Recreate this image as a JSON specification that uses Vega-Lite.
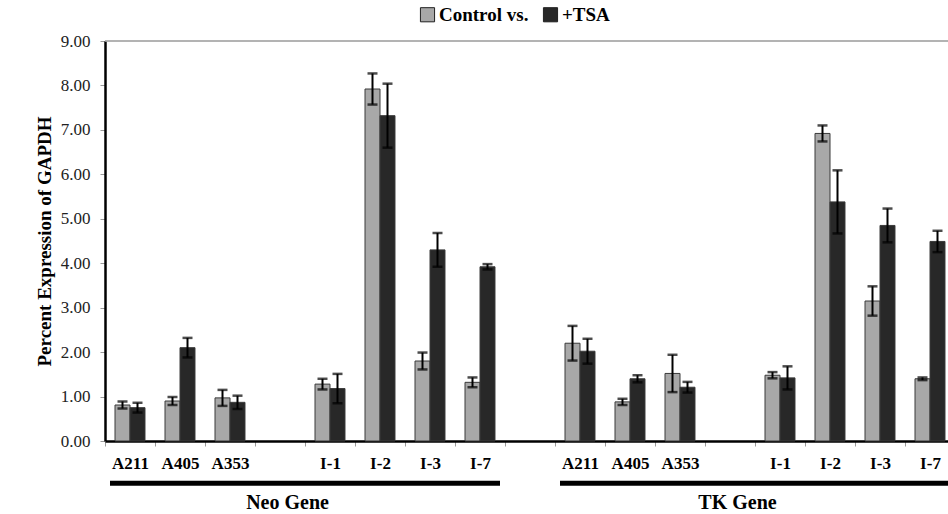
{
  "$schema": "https://vega.github.io/schema/vega-lite/v6.json",
  "autosize": {"type": "none"},
  "padding": {"left": 105, "top": 41, "right": -7, "bottom": 73},
  "width": 850,
  "height": 400,
  "background": "white",
  "config": {
    "view": {"stroke": null},
    "font": "Liberation Serif"
  },
  "datasets": {
    "bars": [
      {"slot": "Neo|A211", "series": "Control vs.", "value": 0.81, "err": 0.08},
      {"slot": "Neo|A211", "series": "+TSA", "value": 0.75, "err": 0.11},
      {"slot": "Neo|A405", "series": "Control vs.", "value": 0.90, "err": 0.09},
      {"slot": "Neo|A405", "series": "+TSA", "value": 2.10, "err": 0.22},
      {"slot": "Neo|A353", "series": "Control vs.", "value": 0.97, "err": 0.18},
      {"slot": "Neo|A353", "series": "+TSA", "value": 0.87, "err": 0.15},
      {"slot": "Neo|I-1", "series": "Control vs.", "value": 1.28, "err": 0.12},
      {"slot": "Neo|I-1", "series": "+TSA", "value": 1.18, "err": 0.33},
      {"slot": "Neo|I-2", "series": "Control vs.", "value": 7.92, "err": 0.35},
      {"slot": "Neo|I-2", "series": "+TSA", "value": 7.32, "err": 0.72},
      {"slot": "Neo|I-3", "series": "Control vs.", "value": 1.80, "err": 0.19},
      {"slot": "Neo|I-3", "series": "+TSA", "value": 4.30, "err": 0.38},
      {"slot": "Neo|I-7", "series": "Control vs.", "value": 1.32, "err": 0.11},
      {"slot": "Neo|I-7", "series": "+TSA", "value": 3.92, "err": 0.06},
      {"slot": "TK|A211", "series": "Control vs.", "value": 2.20, "err": 0.39},
      {"slot": "TK|A211", "series": "+TSA", "value": 2.02, "err": 0.28},
      {"slot": "TK|A405", "series": "Control vs.", "value": 0.88, "err": 0.07},
      {"slot": "TK|A405", "series": "+TSA", "value": 1.40, "err": 0.08},
      {"slot": "TK|A353", "series": "Control vs.", "value": 1.52, "err": 0.42},
      {"slot": "TK|A353", "series": "+TSA", "value": 1.21, "err": 0.12},
      {"slot": "TK|I-1", "series": "Control vs.", "value": 1.48, "err": 0.07},
      {"slot": "TK|I-1", "series": "+TSA", "value": 1.42, "err": 0.26},
      {"slot": "TK|I-2", "series": "Control vs.", "value": 6.92, "err": 0.18},
      {"slot": "TK|I-2", "series": "+TSA", "value": 5.38, "err": 0.71},
      {"slot": "TK|I-3", "series": "Control vs.", "value": 3.15, "err": 0.33},
      {"slot": "TK|I-3", "series": "+TSA", "value": 4.85, "err": 0.38},
      {"slot": "TK|I-7", "series": "Control vs.", "value": 1.40, "err": 0.03},
      {"slot": "TK|I-7", "series": "+TSA", "value": 4.49, "err": 0.24}
    ],
    "groups": [
      {"group": "Neo Gene", "first": "Neo|A211", "last": "Neo|I-7", "mid": "Neo|"},
      {"group": "TK Gene", "first": "TK|A211", "last": "TK|I-7", "mid": "TK|"}
    ]
  },
  "layer": [
    {
      "data": {"name": "bars"},
      "mark": {"type": "bar", "stroke": "#3a3a3a", "strokeWidth": 1},
      "encoding": {
        "x": {
          "field": "slot", "type": "nominal",
          "scale": {
            "domain": ["Neo|A211", "Neo|A405", "Neo|A353", "Neo|", "Neo|I-1", "Neo|I-2", "Neo|I-3", "Neo|I-7", "gap|",
                       "TK|A211", "TK|A405", "TK|A353", "TK|", "TK|I-1", "TK|I-2", "TK|I-3", "TK|I-7"],
            "paddingInner": 0, "paddingOuter": 0
          },
          "axis": {
            "title": null,
            "labelExpr": "split(datum.value, '|')[1]",
            "labelAngle": 0,
            "labelFont": "Liberation Serif",
            "labelFontWeight": "bold",
            "labelFontSize": 17,
            "labelColor": "black",
            "labelPadding": 9,
            "tickBand": "extent",
            "tickColor": "#999999",
            "tickSize": 5,
            "tickWidth": 1,
            "domainColor": "black",
            "domainWidth": 2.5
          }
        },
        "xOffset": {
          "field": "series", "type": "nominal",
          "scale": {"domain": ["Control vs.", "+TSA"], "paddingInner": 0, "paddingOuter": 0.667}
        },
        "y": {
          "field": "value", "type": "quantitative",
          "title": "Percent Expression of GAPDH",
          "scale": {"domain": [0, 9], "nice": false},
          "axis": {
            "title": "Percent Expression of GAPDH",
            "titleFont": "Liberation Serif",
            "titleFontWeight": "bold",
            "titleFontSize": 19,
            "titleColor": "black",
            "titlePadding": 6,
            "values": [0, 1, 2, 3, 4, 5, 6, 7, 8, 9],
            "format": ".2f",
            "labelFont": "Liberation Serif",
            "labelFontSize": 17,
            "labelColor": "#222222",
            "labelPadding": 10,
            "grid": false,
            "tickColor": "#999999",
            "tickSize": 5,
            "tickWidth": 1,
            "domainColor": "black",
            "domainWidth": 2.5
          }
        },
        "color": {
          "field": "series", "type": "nominal",
          "scale": {"domain": ["Control vs.", "+TSA"], "range": ["#a8a8a8", "#282828"]},
          "legend": {
            "title": null,
            "orient": "none",
            "direction": "horizontal",
            "legendX": 313,
            "legendY": -36,
            "symbolType": "square",
            "symbolSize": 200,
            "symbolStrokeColor": "#222222",
            "symbolStrokeWidth": 1,
            "symbolOpacity": 1,
            "labelFont": "Liberation Serif",
            "labelFontWeight": "bold",
            "labelFontSize": 19,
            "labelColor": "black",
            "labelOffset": 2,
            "columnPadding": 12
          }
        }
      }
    },
    {
      "data": {"name": "bars"},
      "mark": {
        "type": "errorbar",
        "color": "black",
        "ticks": {"size": 10, "thickness": 2.5, "color": "black"},
        "rule": {"strokeWidth": 2, "color": "black"}
      },
      "encoding": {
        "x": {"field": "slot", "type": "nominal", "title": null},
        "xOffset": {"field": "series", "type": "nominal"},
        "y": {"field": "value", "type": "quantitative", "title": "Percent Expression of GAPDH"},
        "yError": {"field": "err"}
      }
    },
    {
      "data": {"values": [{"top": 9}]},
      "mark": {"type": "rule", "color": "#9a9a9a", "strokeWidth": 1.5},
      "encoding": {
        "y": {"field": "top", "type": "quantitative", "title": "Percent Expression of GAPDH"}
      }
    },
    {
      "data": {"name": "groups"},
      "mark": {"type": "rule", "color": "black", "strokeWidth": 5},
      "encoding": {
        "x": {"field": "first", "type": "nominal", "bandPosition": 0.1, "title": null},
        "x2": {"field": "last", "bandPosition": 0.9},
        "y": {"datum": -0.95}
      }
    },
    {
      "data": {"name": "groups"},
      "mark": {"type": "text", "font": "Liberation Serif", "fontWeight": "bold", "fontSize": 20, "color": "black", "baseline": "middle", "align": "center"},
      "encoding": {
        "x": {"field": "mid", "type": "nominal", "bandPosition": 0.65, "title": null},
        "y": {"datum": -1.4},
        "text": {"field": "group"}
      }
    }
  ]
}
